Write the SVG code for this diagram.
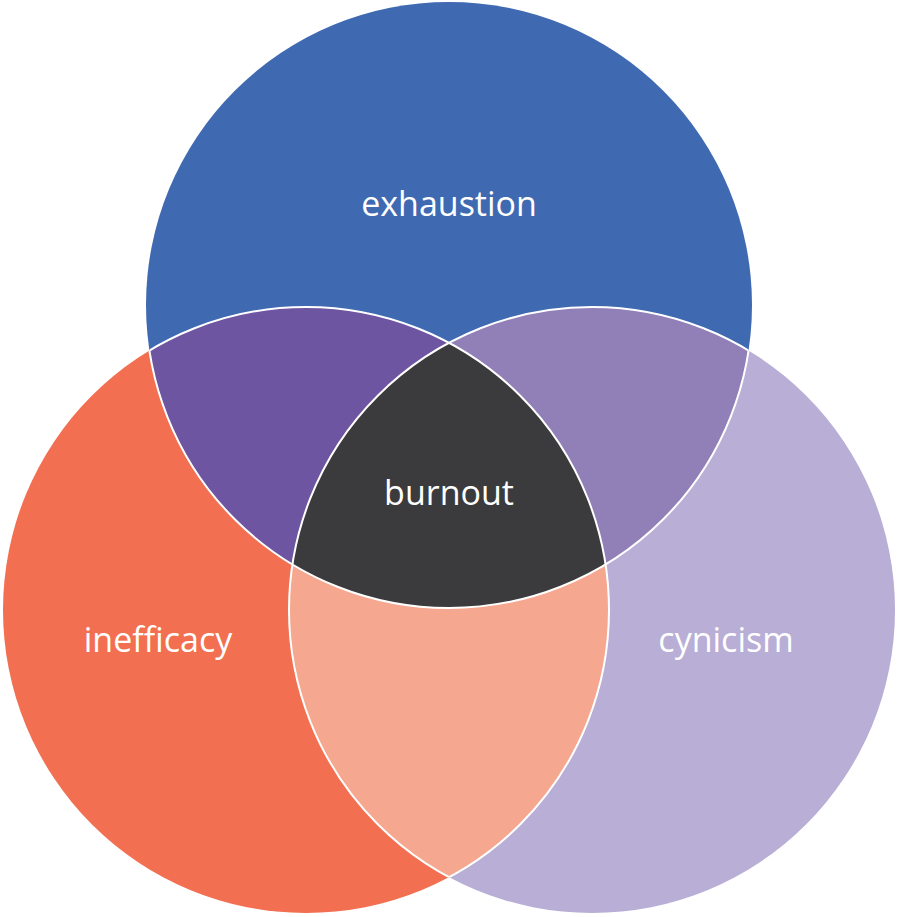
<svg xmlns="http://www.w3.org/2000/svg" width="900" height="917" viewBox="0 0 900 917">
<style>
.lbl{font-family:"Open Sans","Noto Sans","Liberation Sans",sans-serif;font-size:34px;fill:#ffffff;text-anchor:middle}
.edge{fill:none;stroke:#ffffff;stroke-width:2}
</style>
<defs>
<clipPath id="cT"><circle cx="449" cy="305" r="303"/></clipPath>
<clipPath id="cL"><circle cx="306" cy="610" r="303"/></clipPath>
<clipPath id="cR"><circle cx="592" cy="610" r="303"/></clipPath>
<clipPath id="cLR"><circle cx="306" cy="610" r="303"/><circle cx="592" cy="610" r="303"/></clipPath>
<clipPath id="cTR"><circle cx="449" cy="305" r="303"/><circle cx="592" cy="610" r="303"/></clipPath>
<clipPath id="cTL"><circle cx="449" cy="305" r="303"/><circle cx="306" cy="610" r="303"/></clipPath>
</defs>
<rect width="900" height="917" fill="#ffffff"/>
<g id="exhaustion">
<circle cx="449" cy="305" r="303" fill="#3F69B1"/>
</g>
<g id="inefficacy">
<circle cx="306" cy="610" r="303" fill="#F26F51"/>
</g>
<g id="cynicism">
<circle cx="592" cy="610" r="303" fill="#B8AED6"/>
</g>
<g id="overlap-top-left" clip-path="url(#cT)">
<circle cx="306" cy="610" r="303" fill="#6E55A2"/>
</g>
<g id="overlap-top-right" clip-path="url(#cT)">
<circle cx="592" cy="610" r="303" fill="#917FB7"/>
</g>
<g id="overlap-left-right" clip-path="url(#cL)">
<circle cx="592" cy="610" r="303" fill="#F5A88F"/>
</g>
<g id="burnout" clip-path="url(#cT)">
<g clip-path="url(#cL)">
<circle cx="592" cy="610" r="303" fill="#3B3A3C"/>
</g>
</g>
<g id="connectors">
<circle class="edge" cx="449" cy="305" r="303" clip-path="url(#cLR)"/>
<circle class="edge" cx="306" cy="610" r="303" clip-path="url(#cTR)"/>
<circle class="edge" cx="592" cy="610" r="303" clip-path="url(#cTL)"/>
</g>
<g id="labels">
<text class="lbl" x="449" y="216">exhaustion</text>
<text class="lbl" x="449" y="505">burnout</text>
<text class="lbl" x="158" y="652">inefficacy</text>
<text class="lbl" x="726" y="652">cynicism</text>
</g>
</svg>
